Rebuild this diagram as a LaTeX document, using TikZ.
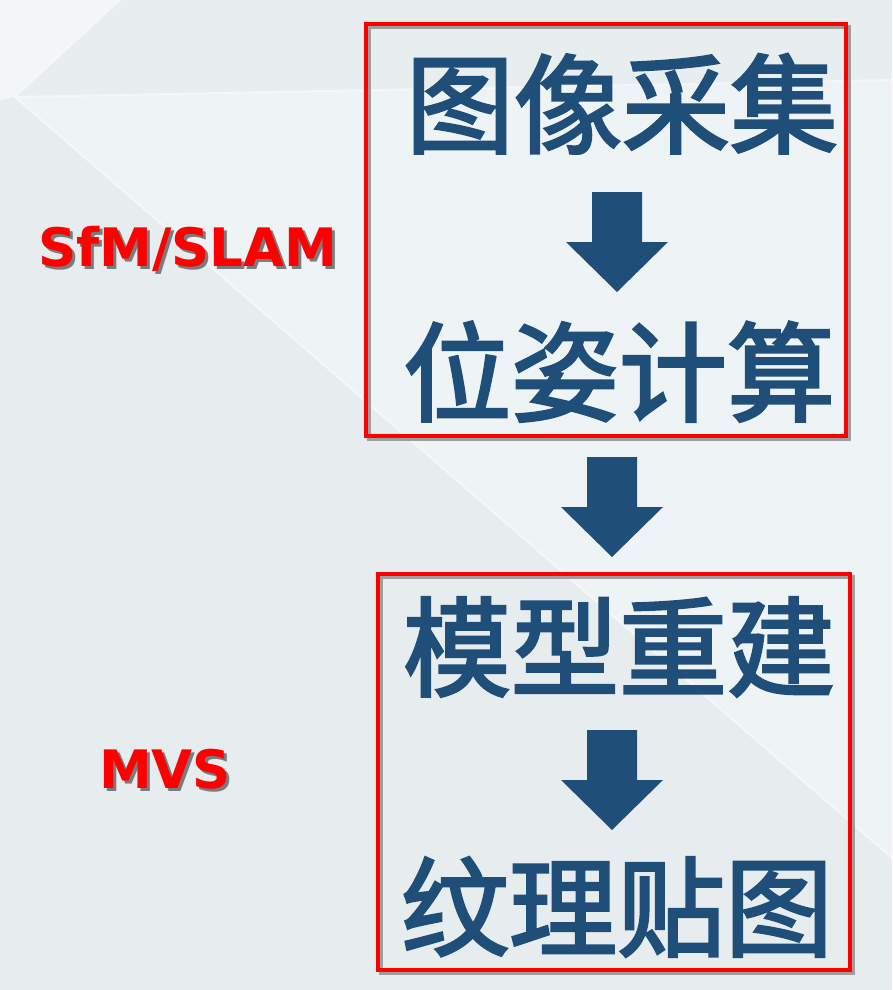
\documentclass[tikz,border=0pt]{standalone}
\usepackage{fontspec}
\newfontface\cjk{Noto Sans CJK SC}[FakeBold=2.5]
\newfontfamily\lab{DejaVu Sans}
\definecolor{ink}{RGB}{31,78,121}
\definecolor{bgA}{RGB}{242,246,248}
\definecolor{bgB}{RGB}{232,237,239}
\definecolor{bgC}{RGB}{238,243,246}
\definecolor{bgD}{RGB}{231,237,238}
\definecolor{shade}{RGB}{120,124,126}
\tikzset{
  cjktext/.style={font=\cjk\fontsize{108}{108}\selectfont, text=ink, inner sep=0pt, anchor=base},
  redlabel/.style={font=\lab\bfseries\fontsize{53}{53}\selectfont, text=red, inner sep=0pt, anchor=base west},
  redbox/.style={draw=red, line width=4pt},
  boxshadow/.style={draw=black!38, line width=4pt},
  bgline/.style={draw=white, opacity=0.5, line width=2pt},
  blockdown/.pic={\fill[ink] (-25,-100) -- (25,-100) -- (25,-50) -- (51,-50) -- (0,0) -- (-51,-50) -- (-25,-50) -- cycle;}
}
\newcommand\shadowed[1]{\rlap{\kern3pt\raisebox{-3pt}[0pt][0pt]{\textcolor{shade}{#1}}}#1}
\begin{document}
\begin{tikzpicture}[x=1pt,y=-1pt]
\useasboundingbox (0,0) rectangle (892,990);
% background
\fill[bgD] (0,0) rectangle (892,990);
\fill[bgC] (15,97) -- (892,80) -- (892,858) -- cycle;
\fill[bgB] (120,0) -- (892,0) -- (892,80) -- (15,97) -- cycle;
\fill[bgA] (0,0) -- (120,0) -- (15,97) -- (0,100) -- cycle;
\draw[bgline] (15,97) -- (892,858);
\draw[bgline] (15,97) -- (892,80);
\draw[bgline, opacity=0.4] (15,97) -- (120,0);
% boxes
\draw[boxshadow] (369,27) rectangle (849,439);
\draw[redbox] (366,24) rectangle (846,436);
\draw[boxshadow] (381,577) rectangle (853,973);
\draw[redbox] (378,574) rectangle (850,970);
% texts
\node[cjktext] (t1) at (622,145) {图像采集};
\node[cjktext] (t2) at (619,413) {位姿计算};
\node[cjktext] (t3) at (619,688) {模型重建};
\node[cjktext] (t4) at (617,948) {纹理贴图};
% arrows
\coordinate (a1) at (617,292);
\coordinate (a2) at (612,557);
\coordinate (a3) at (612,830);
\pic at (a1) {blockdown};
\pic at (a2) {blockdown};
\pic at (a3) {blockdown};
% labels
\node[redlabel] (l1) at (38,266) {\shadowed{SfM/SLAM}};
\node[redlabel] (l2) at (99,788) {\shadowed{MVS}};
\end{tikzpicture}
\end{document}
